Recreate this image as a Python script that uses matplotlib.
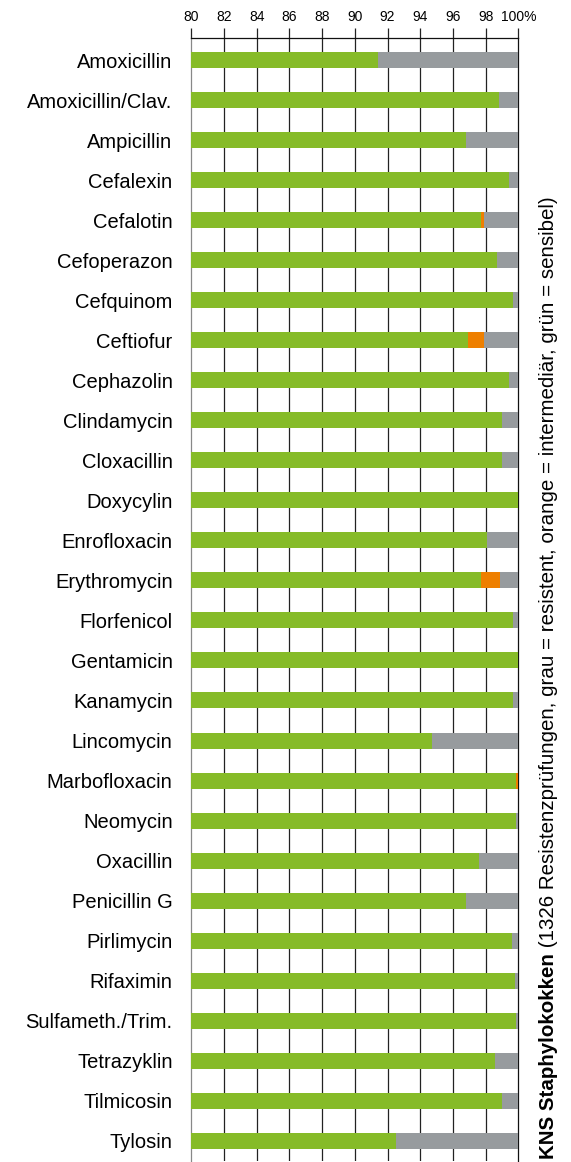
import matplotlib
matplotlib.use('Agg')
import matplotlib.pyplot as plt
from matplotlib import font_manager

# Data: percent sensible (green), intermediate (orange), rest resistent (grey)
antibiotics = ['Amoxicillin', 'Amoxicillin/Clav.', 'Ampicillin', 'Cefalexin', 'Cefalotin',
               'Cefoperazon', 'Cefquinom', 'Ceftiofur', 'Cephazolin', 'Clindamycin',
               'Cloxacillin', 'Doxycylin', 'Enrofloxacin', 'Erythromycin', 'Florfenicol',
               'Gentamicin', 'Kanamycin', 'Lincomycin', 'Marbofloxacin', 'Neomycin',
               'Oxacillin', 'Penicillin G', 'Pirlimycin', 'Rifaximin', 'Sulfameth./Trim.',
               'Tetrazyklin', 'Tilmicosin', 'Tylosin']
sensibel = [91.4, 98.8, 96.8, 99.4, 97.7, 98.7, 99.7, 96.9, 99.4, 99.0,
            99.0, 100.0, 98.1, 97.7, 99.7, 100.0, 99.7, 94.7, 99.85, 99.85,
            97.6, 96.8, 99.6, 99.8, 99.85, 98.6, 99.0, 92.5]
intermediaer = [0, 0, 0, 0, 0.2, 0, 0, 1.0, 0, 0,
                0, 0, 0, 1.2, 0, 0, 0, 0, 0.15, 0,
                0, 0, 0, 0, 0, 0, 0, 0]
ticks = [80, 82, 84, 86, 88, 90, 92, 94, 96, 98, 100]
tick_labels = ['80', '82', '84', '86', '88', '90', '92', '94', '96', '98', '100%']

fonts = {f.name for f in font_manager.fontManager.ttflist}
fam = 'Liberation Sans Narrow' if 'Liberation Sans Narrow' in fonts else 'Liberation Sans'
plt.rcParams['font.family'] = [fam, 'DejaVu Sans']

green = '#86bb28'
orange = '#ee7f00'
grey = '#979b9e'

fig = plt.figure(figsize=(5.71, 11.62), dpi=100)
ax = fig.add_axes([0.335, 0.001, 0.5728, 0.9663])

y = list(range(len(antibiotics)))
resistent = [100 - s - i for s, i in zip(sensibel, intermediaer)]
left_g = [s + i for s, i in zip(sensibel, intermediaer)]
ax.barh(y, [s - 80 for s in sensibel], left=80, height=0.4, color=green, zorder=3)
ax.barh(y, intermediaer, left=sensibel, height=0.4, color=orange, zorder=3)
ax.barh(y, resistent, left=left_g, height=0.4, color=grey, zorder=3)

# vertical grid lines behind the bars
for t in ticks[1:-1]:
    ax.axvline(t, color='#222222', lw=0.9, zorder=1)

ax.set_xlim(80, 100)
ax.set_ylim(27.5, -0.55)
ax.xaxis.tick_top()
ax.set_xticks(ticks)
ax.set_xticklabels(tick_labels, fontsize=10)
ax.tick_params(axis='x', length=7, width=0.9, color='#222222', pad=3)
ax.set_yticks(y)
ax.set_yticklabels(antibiotics, fontsize=14.5)
ax.tick_params(axis='y', length=0, pad=13.5)
ax.spines['bottom'].set_visible(False)
ax.spines['left'].set_color('#888888')
ax.spines['right'].set_color('#111111')
ax.spines['top'].set_color('#111111')
for s in ['left', 'right', 'top']:
    ax.spines[s].set_linewidth(0.9)

t1 = fig.text(0.96, 0.003, 'KNS Staphylokokken', rotation=90, fontsize=14.8,
              fontweight='bold', ha='center', va='bottom')
ax.annotate(' (1326 Resistenzprüfungen, grau = resistent, orange = intermediär, grün = sensibel)',
            xy=(0.5, 1.0), xycoords=t1, rotation=90, fontsize=14.8,
            ha='center', va='bottom', annotation_clip=False)

fig.savefig('out.png', dpi=100)
